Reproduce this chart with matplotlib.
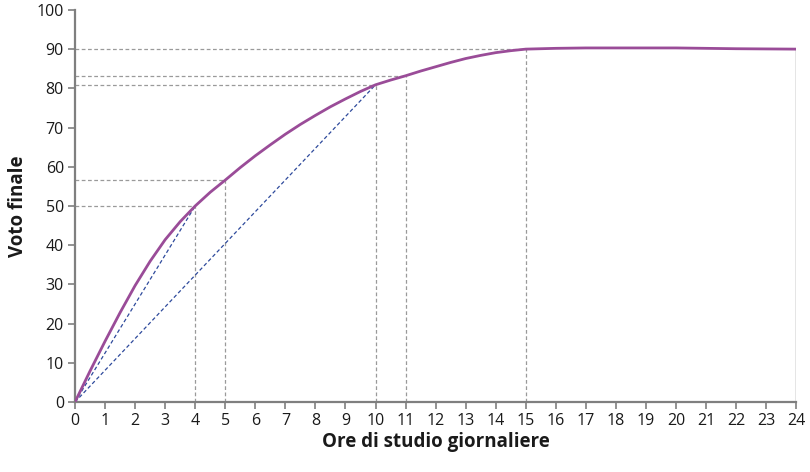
import matplotlib
matplotlib.use("Agg")
import matplotlib.pyplot as plt

plt.rcParams['font.family'] = ['Open Sans', 'DejaVu Sans']

# curve: final grade vs daily study hours (every half hour)
hours = [0, 0.5, 1, 1.5, 2, 2.5, 3, 3.5, 4, 4.5, 5, 5.5, 6, 6.5, 7, 7.5,
         8, 8.5, 9, 9.5, 10, 10.5, 11, 11.5, 12, 12.5, 13, 13.5, 14, 14.5,
         15, 15.5, 16, 17, 18, 19, 20, 21, 22, 23, 24]
grade = [0, 7.9, 15.5, 22.8, 29.7, 35.9, 41.4, 46, 50, 53.5, 56.6, 59.8,
         62.8, 65.6, 68.3, 70.8, 73.1, 75.3, 77.3, 79.2, 80.9, 82.1, 83.2,
         84.4, 85.5, 86.6, 87.6, 88.4, 89.1, 89.6, 90, 90.1, 90.2, 90.3,
         90.3, 90.3, 90.3, 90.2, 90.1, 90.05, 90]

# highlighted points with guide lines
mark_x = [4, 5, 10, 11, 15]
mark_y = [50, 56.6, 80.9, 83.2, 90]

# chords from the origin
chord_x = [4, 10]
chord_y = [50, 80.9]

PURPLE = "#9a4c98"
BLUE = "#2e4a9c"
GREY = "#9a9a9a"
AXIS = "#7f7f7f"

fig = plt.figure(figsize=(8.1, 4.72), dpi=100)
ax = fig.add_axes([0.0926, 0.1483, 0.8904, 0.8307])

for x, y in zip(mark_x, mark_y):
    ax.plot([0, x], [y, y], ls=(0, (3, 2)), color=GREY, lw=0.9, zorder=1)
    ax.plot([x, x], [0, y], ls=(0, (3, 2)), color=GREY, lw=0.9, zorder=1)

for x, y in zip(chord_x, chord_y):
    ax.plot([0, x], [0, y], ls=(0, (3, 2)), color=BLUE, lw=0.9, zorder=2)

# closing line at the right end of the curve
ax.plot([hours[-1], hours[-1]], [0, grade[-1]], color=AXIS, lw=1.0, zorder=1)

ax.plot(hours, grade, color=PURPLE, lw=2.0, zorder=3,
        solid_capstyle="butt", solid_joinstyle="round")

ax.set_xlim(0, 24)
ax.set_ylim(0, 100)
ax.set_xticks(range(0, 25))
ax.set_yticks(range(0, 101, 10))
for s in ["top", "right"]:
    ax.spines[s].set_visible(False)
for s in ["left", "bottom"]:
    ax.spines[s].set_color(AXIS)
    ax.spines[s].set_linewidth(1.6)
ax.tick_params(axis="both", colors=AXIS, length=5, width=1.2, labelsize=11.5,
               labelcolor="#1a1a1a", pad=3)

ax.set_xlabel("Ore di studio giornaliere", fontsize=13.5, fontweight="bold",
              color="#1a1a1a", labelpad=2)
ax.set_ylabel("Voto finale", fontsize=13.5, fontweight="bold",
              color="#1a1a1a", labelpad=6)

fig.savefig("out.png", dpi=100)
